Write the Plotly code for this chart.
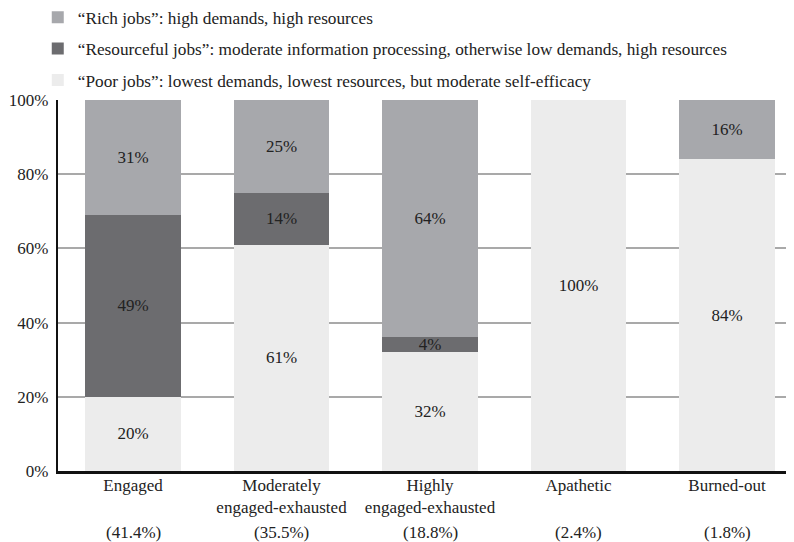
import plotly.graph_objects as go

categories = ["Engaged", "Moderately<br>engaged-exhausted", "Highly<br>engaged-exhausted", "Apathetic", "Burned-out"]
shares = ["(41.4%)", "(35.5%)", "(18.8%)", "(2.4%)", "(1.8%)"]
poor = [20, 61, 32, 100, 84]
resourceful = [49, 14, 4, 0, 0]
rich = [31, 25, 64, 0, 16]

names = {
    "rich": "“Rich jobs”: high demands, high resources",
    "res": "“Resourceful jobs”: moderate information processing, otherwise low demands, high resources",
    "poor": "“Poor jobs”: lowest demands, lowest resources, but moderate self-efficacy",
}
colors = {"rich": "#a7a8ac", "res": "#6c6c6f", "poor": "#ececec"}
ranks = {"rich": 1, "res": 2, "poor": 3}
FONT = "Liberation Serif, Times New Roman, DejaVu Serif, serif"
FS = 17

def labels(vals):
    return [f"{v}%" if v > 0 else "" for v in vals]

x = list(range(len(categories)))
fig = go.Figure()
for key, vals in [("poor", poor), ("res", resourceful), ("rich", rich)]:
    fig.add_trace(go.Bar(
        x=x, y=vals, name=names[key], legendgroup=key, legendrank=ranks[key],
        marker=dict(color=colors[key], line=dict(width=0)),
        text=labels(vals), textposition="inside", insidetextanchor="middle",
        textfont=dict(family=FONT, size=FS, color="#222222"),
        width=0.645, constraintext="none", cliponaxis=False,
    ))

for i, s in enumerate(shares):
    fig.add_annotation(x=i, y=-0.166, xref="x", yref="paper", text=s,
                       showarrow=False, yanchor="middle",
                       font=dict(family=FONT, size=FS, color="#222222"))

fig.update_layout(
    barmode="stack",
    width=786, height=534,
    margin=dict(l=50, r=0, t=92, b=71, autoexpand=False),
    paper_bgcolor="white", plot_bgcolor="white",
    font=dict(family=FONT, size=FS, color="#222222"),
    uniformtext=dict(minsize=FS, mode="show"),
    showlegend=True,
    legend=dict(traceorder="grouped", orientation="v",
                x=-0.0275, xanchor="left", y=1.271, yanchor="top",
                tracegroupgap=6, font=dict(family=FONT, size=17.25, color="#222222"),
                bgcolor="rgba(0,0,0,0)"),
    xaxis=dict(tickmode="array", tickvals=x, ticktext=categories,
               range=[-0.505, 4.451], showgrid=False, ticks="",
               showline=True, linecolor="#111111", linewidth=2.5,
               ticklabelstandoff=-3,
               tickfont=dict(family=FONT, size=FS, color="#222222")),
    yaxis=dict(range=[0, 100], tickvals=[0, 20, 40, 60, 80, 100],
               ticktext=["0%", "20%", "40%", "60%", "80%", "100%"],
               showgrid=True, gridcolor="#a9a9a9", gridwidth=1.5,
               showline=True, linecolor="#111111", linewidth=2.2,
               ticks="", zeroline=False, ticklabelstandoff=4,
               tickfont=dict(family=FONT, size=FS, color="#222222")),
)
fig.write_html("out.html")
